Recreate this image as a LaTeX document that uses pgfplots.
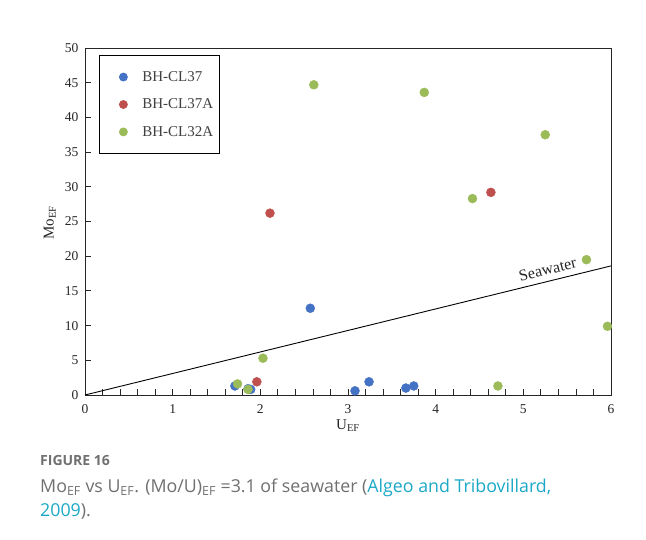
\documentclass[border=0pt]{standalone}
\usepackage{pgfplots}
\pgfplotsset{compat=1.18}
\usepackage{fontspec}
\setmainfont{Liberation Serif}
\newfontfamily\capfont{Open Sans}
\definecolor{sblue}{HTML}{4472C4}
\definecolor{sred}{HTML}{C0504D}
\definecolor{sgreen}{HTML}{9BBB59}
\definecolor{capgray}{HTML}{707070}
\definecolor{capcyan}{HTML}{1BA9C7}
\definecolor{txtgray}{HTML}{404040}

\begin{document}
\begin{tikzpicture}[x=1pt,y=1pt]
\path[fill=white] (0,0) rectangle (646,540);
\begin{axis}[
  at={(85pt,145pt)}, anchor=south west,
  scale only axis, width=526pt, height=347pt,
  xmin=0, xmax=6, ymin=0, ymax=50,
  xtick={0,1,...,6}, ytick={0,5,...,50},
  minor x tick num=4,
  tick pos=left,
  tick align=inside,
  major tick length=6pt, minor tick length=6pt,
  axis line style={line width=0.9pt, black!85},
  every tick/.style={line width=0.8pt, black!85},
  ticklabel style={font=\fontsize{13.5}{15}\selectfont, text=black!85},
  /pgf/number format/assume math mode=true,
  xticklabel style={yshift=-6pt},
  yticklabel style={xshift=-3pt},
  xlabel={U\textsubscript{EF}},
  ylabel={Mo\textsubscript{EF}},
  label style={font=\fontsize{15}{17}\selectfont, text=black!85},
  xlabel style={at={(axis description cs:0.5,0)}, anchor=north, yshift=-24pt, inner sep=0pt},
  ylabel style={at={(axis description cs:0,0.496)}, anchor=south, yshift=29pt, inner sep=0pt},
  legend style={at={(axis description cs:0.0266,0.98)}, anchor=north west,
    draw=black, line width=0.8pt, font=\fontsize{15}{17}\selectfont, text=txtgray,
    inner xsep=4pt, inner ysep=14pt, row sep=12pt},
  legend cell align=left,
  legend image code/.code={%
    \path[draw=none, fill=none] (-20pt,0pt) -- (17pt,0pt);
    \draw[#1,mark size=4pt] plot coordinates {(0pt,0pt)};},
  clip=false,
]
\addplot[only marks, mark=*, mark size=4.5pt, color=sblue] coordinates {
  (1.71,1.3) (1.86,0.9) (1.89,0.8) (3.08,0.6) (3.24,1.9) (3.66,1.0) (3.75,1.3) (2.57,12.5)
};
\addlegendentry{BH-CL37}
\addplot[only marks, mark=*, mark size=4.5pt, color=sred] coordinates {
  (2.11,26.2) (4.63,29.2) (1.96,1.9)
};
\addlegendentry{BH-CL37A}
\addplot[only marks, mark=*, mark size=4.5pt, color=sgreen] coordinates {
  (2.61,44.7) (3.87,43.6) (4.42,28.3) (5.25,37.5) (5.72,19.5) (5.96,9.9)
  (4.71,1.3) (2.03,5.3) (1.74,1.6) (1.86,0.8)
};
\addlegendentry{BH-CL32A}
% seawater Mo/U ratio of 3.1
\addplot[black, line width=0.9pt, forget plot] coordinates {(0,0) (6,18.6)}
  node[pos=0.885, anchor=south, rotate=13.8, yshift=5pt, inner sep=1pt, font=\fontsize{16}{18}\selectfont, text=black!85] {Seawater};
\end{axis}
\node[anchor=base west, inner sep=0pt, text=capgray, font=\capfont\fontsize{14}{16}\selectfont\bfseries] at (40,540-466) {FIGURE 16};
\node[anchor=base west, inner sep=0pt, text=capgray, font=\capfont\fontsize{17.8}{20}\selectfont] at (40,540-493)
  {Mo\textsubscript{EF} vs U\textsubscript{EF}. (Mo/U)\textsubscript{EF} =3.1 of seawater (\textcolor{capcyan}{Algeo and Tribovillard,}};
\node[anchor=base west, inner sep=0pt, text=capgray, font=\capfont\fontsize{17.8}{20}\selectfont] at (40,540-517)
  {\textcolor{capcyan}{2009}).};
\end{tikzpicture}
\end{document}
